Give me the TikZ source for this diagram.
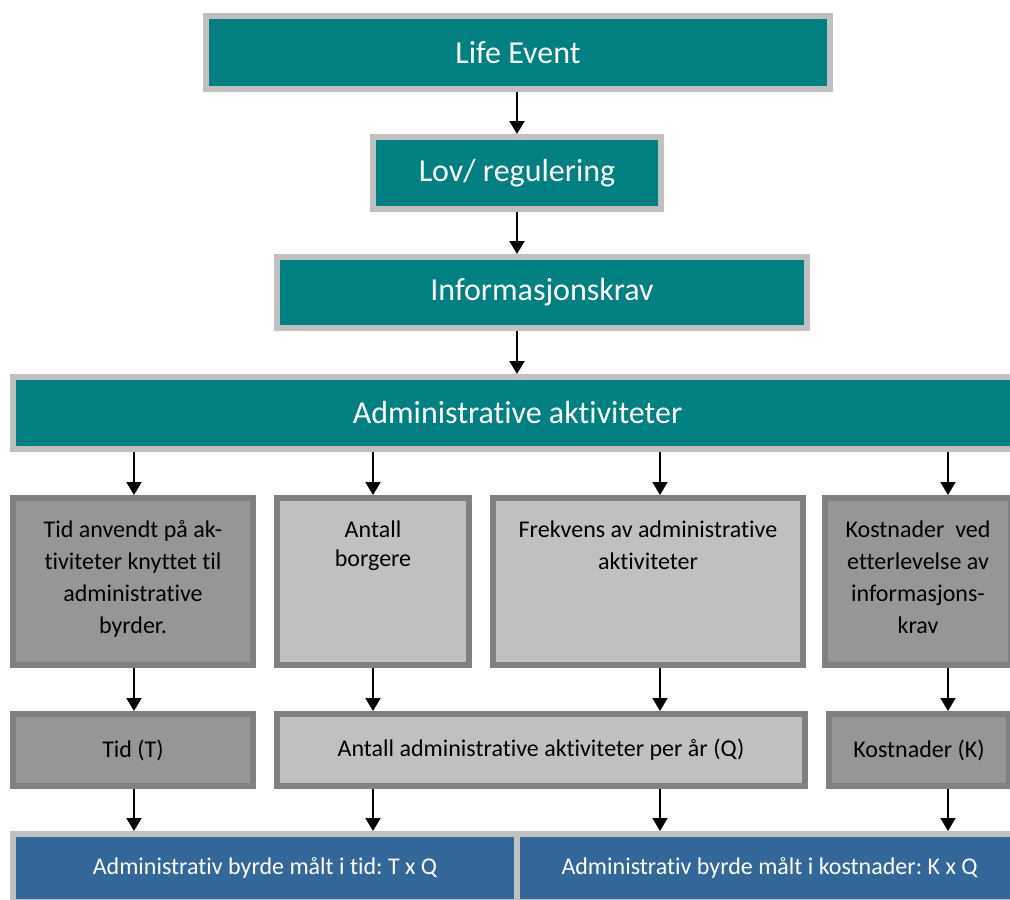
\documentclass[tikz,border=0pt]{standalone}
\usepackage{fontspec}
\setmainfont{Carlito}[Ligatures={NoCommon}]
\frenchspacing
\usetikzlibrary{arrows.meta}
\definecolor{tealc}{HTML}{008080}
\definecolor{lightb}{HTML}{C0C0C0}
\definecolor{gdark}{HTML}{969696}
\definecolor{gbord}{HTML}{808080}
\definecolor{bluec}{HTML}{336699}
\tikzset{
  basebox/.style={line width=6pt, inner sep=0pt, outer sep=3pt, rectangle},
  tealbox/.style={basebox, fill=tealc, draw=lightb, text=white, font=\fontsize{32}{38}\selectfont},
  darkbox/.style={basebox, fill=gdark, draw=gbord, text=black, font=\fontsize{24}{32}\selectfont},
  lightbox/.style={basebox, fill=lightb, draw=gbord, text=black, font=\fontsize{24}{32}\selectfont},
  bluebox/.style={basebox, fill=bluec, draw=lightb, text=white, font=\fontsize{24}{30}\selectfont},
  toptext/.style={align=flush center, text height=39pt, text depth=128pt},
  arr/.style={line width=2pt, -{Triangle[width=15pt,length=13pt]}}
}
\begin{document}
\begin{tikzpicture}[x=1pt,y=-1pt]
\useasboundingbox (0,0) rectangle (1010,900);
\clip (0,0) rectangle (1010,900);
% top chain
\node[tealbox, minimum width=624, minimum height=73] (le) at (518,52.5) {Life Event};
\node[tealbox, minimum width=288, minimum height=72] (lov) at (517,173) {Lov/ regulering};
\node[tealbox, minimum width=530, minimum height=71] (info) at (542,292.5) {Informasjonskrav};
\node[tealbox, minimum width=1009, minimum height=72] (admin) at (517.5,413) {Administrative aktiviteter};
% row 2
\node[darkbox, toptext, text width=236pt, minimum width=240, minimum height=167] (b1) at (133,581.5)
  {Tid anvendt på ak-\\tiviteter knyttet til\\administrative\\byrder.};
\node[lightbox, toptext, text width=188pt, minimum width=192, minimum height=167, font=\fontsize{24}{29}\selectfont] (b2) at (373,581.5)
  {Antall\\borgere};
\node[lightbox, toptext, text width=305pt, minimum width=310, minimum height=167] (b3) at (648,581.5)
  {Frekvens av administrative\\aktiviteter};
\node[darkbox, toptext, text width=184pt, minimum width=186, minimum height=167] (b4) at (918,581.5)
  {Kostnader~ ved\\etterlevelse av\\informasjons-\\krav};
% row 3
\node[darkbox, minimum width=240, minimum height=72] (r1) at (133,750) {Tid (T)};
\node[lightbox, minimum width=528, minimum height=72] (r2) at (541,750) {Antall administrative aktiviteter per år (Q)};
\node[darkbox, minimum width=180, minimum height=72] (r3) at (919,750) {Kostnader (K)};
% row 4
\node[bluebox, minimum width=504, minimum height=68] (bl) at (265,868) {Administrativ byrde målt i tid: T x Q};
\node[bluebox, minimum width=505, minimum height=68] (br) at (769.5,868) {Administrativ byrde målt i kostnader: K x Q};
% column positions
\coordinate (c1) at (134,0);
\coordinate (c2) at (373,0);
\coordinate (c3) at (660,0);
\coordinate (c4) at (948,0);
% arrows
\draw[arr] (le.south -| lov.center) -- (lov.north);
\draw[arr] (lov.south) -- (info.north -| lov.center);
\draw[arr] (info.south -| lov.center) -- (admin.north -| lov.center);
\draw[arr] (admin.south -| c1) -- (b1.north -| c1);
\draw[arr] (admin.south -| c2) -- (b2.north -| c2);
\draw[arr] (admin.south -| c3) -- (b3.north -| c3);
\draw[arr] (admin.south -| c4) -- (b4.north -| c4);
\draw[arr] (b1.south -| c1) -- (r1.north -| c1);
\draw[arr] (b2.south -| c2) -- (r2.north -| c2);
\draw[arr] (b3.south -| c3) -- (r2.north -| c3);
\draw[arr] (b4.south -| c4) -- (r3.north -| c4);
\draw[arr] (r1.south -| c1) -- (bl.north -| c1);
\draw[arr] (r2.south -| c2) -- (bl.north -| c2);
\draw[arr] (r2.south -| c3) -- (br.north -| c3);
\draw[arr] (r3.south -| c4) -- (br.north -| c4);
\end{tikzpicture}
\end{document}
